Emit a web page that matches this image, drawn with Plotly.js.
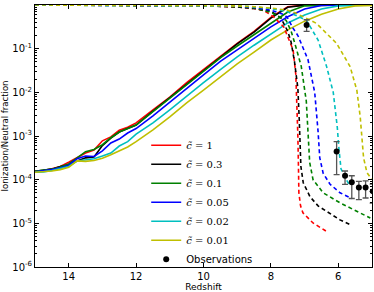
<!DOCTYPE html>
<html>
<head>
<meta charset="utf-8">
<script src="https://cdn.plot.ly/plotly-3.0.1.min.js"></script>
<style>html,body{margin:0;padding:0;background:#fff;}#chart{width:374px;height:292px;}</style>
</head>
<body>
<div id="chart"></div>
<script>
// Redshift grid for the ionization-fraction (solid) curves
const zSolid = [15, 14.75, 14.5, 14.25, 14, 13.75, 13.5, 13.25, 13, 12.75, 12.5, 12.25, 12, 11.5, 11, 10.5, 10, 9.5, 9, 8.5, 8, 7.5, 7, 6.5, 6, 5.5, 5];

// Ionization fraction (solid lines)
const ionC1   = [1.55e-4, 1.62e-4, 1.78e-4, 2.0e-4, 2.51e-4, 3.16e-4, 4.07e-4, 4.79e-4, 7.76e-4, 9.55e-4, 1.35e-3, 1.58e-3, 2.0e-3, 3.98e-3, 7.76e-3, 0.0166, 0.0331, 0.0676, 0.132, 0.25, 0.52, 0.91, 0.995, 0.9995, 1, 1, 1];
const ionC03  = [1.55e-4, 1.62e-4, 1.74e-4, 2.0e-4, 2.19e-4, 2.69e-4, 3.16e-4, 3.31e-4, 6.03e-4, 8.91e-4, 1.23e-3, 1.48e-3, 1.78e-3, 3.72e-3, 7.59e-3, 0.0158, 0.0324, 0.0661, 0.129, 0.24, 0.50, 0.89, 0.993, 0.9995, 1, 1, 1];
const ionC01  = [1.55e-4, 1.62e-4, 1.74e-4, 1.95e-4, 2.29e-4, 3.16e-4, 4.37e-4, 4.9e-4, 6.31e-4, 9.12e-4, 1.23e-3, 1.48e-3, 1.78e-3, 3.63e-3, 7.41e-3, 0.0151, 0.0309, 0.0617, 0.115, 0.209, 0.389, 0.692, 0.955, 0.995, 1, 1, 1];
const ionC005 = [1.51e-4, 1.58e-4, 1.70e-4, 1.86e-4, 2.14e-4, 3.02e-4, 3.47e-4, 3.39e-4, 4.57e-4, 6.92e-4, 8.51e-4, 1.17e-3, 1.48e-3, 2.88e-3, 6.03e-3, 0.0126, 0.0251, 0.0513, 0.0933, 0.174, 0.316, 0.537, 0.813, 0.977, 0.998, 1, 1];
const ionC002 = [1.48e-4, 1.51e-4, 1.62e-4, 1.78e-4, 2.0e-4, 2.69e-4, 2.82e-4, 3.02e-4, 3.47e-4, 4.07e-4, 5.89e-4, 7.41e-4, 1.10e-3, 2.0e-3, 3.98e-3, 8.32e-3, 0.0166, 0.0331, 0.0646, 0.120, 0.219, 0.389, 0.589, 0.813, 0.955, 0.995, 1];
const ionC001 = [1.48e-4, 1.51e-4, 1.58e-4, 1.70e-4, 1.91e-4, 2.69e-4, 2.63e-4, 2.75e-4, 3.09e-4, 3.72e-4, 4.57e-4, 5.62e-4, 7.41e-4, 1.38e-3, 2.75e-3, 5.75e-3, 0.0112, 0.0224, 0.0447, 0.0832, 0.158, 0.269, 0.427, 0.617, 0.813, 0.955, 0.977];

// Neutral fraction (dashed lines), each with its own redshift samples
const zNeuC1   = [15, 10, 9, 8.5, 8.2, 7.92, 7.62, 7.43, 7.34, 7.26, 7.22, 7.2, 7.18, 7.17, 7.12, 7.05, 6.75, 6.34];
const neuC1    = [0.9998, 0.966, 0.90, 0.83, 0.74, 0.537, 0.316, 0.135, 0.0933, 0.0251, 5.01e-3, 1.0e-3, 1.58e-4, 5.01e-5, 2.51e-5, 1.74e-5, 1.02e-5, 6.46e-6];
const zNeuC03  = [15, 10, 9, 8.5, 8, 7.7, 7.5, 7.4, 7.3, 7.2, 7.16, 7.14, 7.11, 7.04, 6.84, 6.6, 6.34, 5.95, 5.65];
const neuC03   = [0.9998, 0.968, 0.90, 0.83, 0.72, 0.501, 0.251, 0.141, 0.0501, 0.0126, 2.51e-3, 6.31e-4, 2.0e-4, 8.51e-5, 4.07e-5, 2.51e-5, 1.86e-5, 1.20e-5, 9.33e-6];
const zNeuC01  = [15, 10, 9, 8.5, 8, 7.55, 7.4, 7.3, 7.1, 6.95, 6.9, 6.85, 6.75, 6.45, 5.95, 5.45, 5.05];
const neuC01   = [0.9998, 0.97, 0.93, 0.86, 0.676, 0.447, 0.251, 0.141, 0.0398, 6.31e-3, 1.0e-3, 2.51e-4, 1.0e-4, 5.01e-5, 2.95e-5, 1.86e-5, 1.32e-5];
const zNeuC005 = [15, 10, 9, 8.5, 8, 7.6, 7.5, 7.35, 7.2, 6.9, 6.7, 6.6, 6.55, 6.45, 6.25, 5.95, 5.6];
const neuC005  = [0.9998, 0.975, 0.94, 0.88, 0.76, 0.60, 0.50, 0.30, 0.2, 0.0562, 0.01, 1.26e-3, 3.16e-4, 1.41e-4, 7.94e-5, 5.01e-5, 3.72e-5];
const zNeuC002 = [15, 10, 9, 8.5, 8, 7.5, 7.2, 6.95, 6.6, 6.35, 6.15, 6.03, 5.98, 5.92, 5.8, 5.65];
const neuC002  = [0.9998, 0.984, 0.95, 0.91, 0.83, 0.70, 0.56, 0.45, 0.158, 0.0398, 0.01, 1.58e-3, 5.01e-4, 1.78e-4, 1.12e-4, 7.08e-5];
const zNeuC001 = [15, 10, 9, 8.5, 8, 7.5, 7.25, 6.65, 6.05, 5.65, 5.45, 5.35, 5.3, 5.25, 5.15, 5.0];
const neuC001  = [0.9998, 0.989, 0.955, 0.912, 0.851, 0.759, 0.646, 0.380, 0.132, 0.0389, 0.0112, 2.75e-3, 8.13e-4, 3.16e-4, 1.45e-4, 1.0e-4];

// Observations
const obsZ        = [6.94, 6.05, 5.80, 5.60, 5.39, 5.19, 4.98];
const obsVal      = [0.35, 4.4e-4, 1.23e-4, 8.7e-5, 6.6e-5, 6.6e-5, 5.4e-5];
const obsErrPlus  = [0.11, 3.0e-4, 0.35e-4, 3.6e-5, 2.5e-5, 2.8e-5, 2.5e-5];
const obsErrMinus = [0.10, 3.1e-4, 0.45e-4, 5.0e-5, 3.1e-5, 2.8e-5, 2.5e-5];

const seriesNames = ['c\u0303 = 1', 'c\u0303 = 0.3', 'c\u0303 = 0.1', 'c\u0303 = 0.05', 'c\u0303 = 0.02', 'c\u0303 = 0.01'];
const colors = ['#ff0000', '#000000', '#008000', '#0000ff', '#00bfbf', '#bfbf00'];
const ionSets = [ionC1, ionC03, ionC01, ionC005, ionC002, ionC001];
const neuZ = [zNeuC1, zNeuC03, zNeuC01, zNeuC005, zNeuC002, zNeuC001];
const neuSets = [neuC1, neuC03, neuC01, neuC005, neuC002, neuC001];

const traces = [];
for (let i = 0; i < 6; i++) {
  traces.push({
    x: zSolid, y: ionSets[i], type: 'scatter', mode: 'lines',
    name: '<span style="font-family:DejaVu Serif">' + seriesNames[i].replace('c\u0303', '<i>c\u0303</i>') + '</span>',
    legendgroup: 'g' + i,
    line: {color: colors[i], width: 1.6}
  });
}
for (let i = 0; i < 6; i++) {
  traces.push({
    x: neuZ[i], y: neuSets[i], type: 'scatter', mode: 'lines',
    showlegend: false, legendgroup: 'g' + i,
    line: {color: colors[i], width: 1.6, dash: '4px,3px'}
  });
}
traces.push({
  x: obsZ, y: obsVal, type: 'scatter', mode: 'markers', name: 'Observations',
  marker: {color: '#000', size: 6},
  error_y: {type: 'data', symmetric: false, array: obsErrPlus, arrayminus: obsErrMinus,
            color: '#555', thickness: 1.3, width: 3}
});

const layout = {
  width: 374, height: 292,
  margin: {l: 35, r: 2, t: 5, b: 25},
  paper_bgcolor: '#fff', plot_bgcolor: '#fff',
  font: {family: 'DejaVu Sans', size: 9, color: '#000'},
  showlegend: true,
  legend: {x: 0.33, y: 0.52, xanchor: 'left', yanchor: 'top', bgcolor: 'rgba(255,255,255,0)',
           font: {size: 10, family: 'DejaVu Sans'}, borderwidth: 0, tracegroupgap: 0},
  xaxis: {
    range: [15, 5], autorange: false, automargin: false,
    tickvals: [14, 12, 10, 8, 6], ticktext: ['14', '12', '10', '8', '6'],
    ticks: 'inside', ticklen: 4, tickcolor: '#000', tickwidth: 1,
    showline: true, linecolor: '#000', linewidth: 1, mirror: 'allticks',
    showgrid: false, zeroline: false,
    tickfont: {size: 10},
    title: {text: 'Redshift', font: {size: 9}}
  },
  yaxis: {
    type: 'log', range: [-6, 0], autorange: false, automargin: false,
    tickvals: [1e-6, 1e-5, 1e-4, 1e-3, 1e-2, 1e-1, 1],
    ticktext: ['10<sup>-6</sup>', '10<sup>-5</sup>', '10<sup>-4</sup>', '10<sup>-3</sup>', '10<sup>-2</sup>', '10<sup>-1</sup>', '10<sup>0</sup>'],
    ticks: 'inside', ticklen: 4, tickcolor: '#000', tickwidth: 1,
    minor: {ticks: 'inside', ticklen: 2, tickcolor: '#000', dtick: 'D1', showgrid: false},
    showline: true, linecolor: '#000', linewidth: 1, mirror: 'allticks',
    showgrid: false, zeroline: false,
    tickfont: {size: 10},
    title: {text: 'Ionization/Neutral fraction', font: {size: 8.5}}
  }
};

Plotly.newPlot('chart', traces, layout, {displayModeBar: false, staticPlot: true});
</script>
</body>
</html>
